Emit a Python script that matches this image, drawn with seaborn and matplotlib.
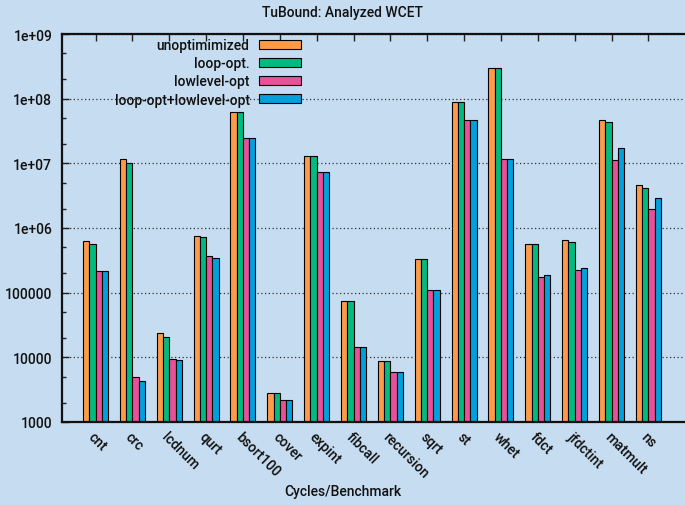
import pandas as pd
import matplotlib
matplotlib.use("Agg")
import matplotlib.pyplot as plt
import matplotlib.ticker as mticker
import seaborn as sns

# data (cycles, log scale)
benchmarks = ["cnt", "crc", "lcdnum", "qurt", "bsort100", "cover", "expint", "fibcall",
              "recursion", "sqrt", "st", "whet", "fdct", "jfdctint", "matmult", "ns"]
series_names = ["unoptimimized", "loop-opt.", "lowlevel-opt", "loop-opt+lowlevel-opt"]
unoptimized = [624000, 11700000, 24200, 755000, 61800000, 2780, 13000000, 74300,
               8930, 329000, 88300000, 297000000, 569000, 647000, 46400000, 4610000]
loop_opt = [561000, 10000000, 20500, 719000, 61800000, 2780, 13000000, 74300,
            8930, 329000, 88300000, 297000000, 569000, 618000, 43700000, 4200000]
lowlevel_opt = [219000, 5040, 9500, 366000, 24700000, 2170, 7300000, 14400,
                5890, 109000, 46400000, 11500000, 173000, 228000, 11300000, 2000000]
both_opt = [219000, 4300, 9100, 345000, 24700000, 2170, 7300000, 14400,
            5890, 109000, 46400000, 11500000, 185000, 238000, 17100000, 2900000]

ytick_values = [1e3, 1e4, 1e5, 1e6, 1e7, 1e8, 1e9]
ytick_labels = ["1000", "10000", "100000", "1e+06", "1e+07", "1e+08", "1e+09"]

colors = ["#ff9a48", "#00bb80", "#e8509a", "#00a0dc"]
bg = "#c6dcf0"

rows = []
for name, vals in zip(series_names, [unoptimized, loop_opt, lowlevel_opt, both_opt]):
    for b, v in zip(benchmarks, vals):
        rows.append({"bench": b, "cycles": v, "series": name})
df = pd.DataFrame(rows)

sns.set_style("ticks")
plt.rcParams["font.family"] = ["Roboto", "DejaVu Sans"]
plt.rcParams["font.size"] = 10
plt.rcParams["font.weight"] = "medium"
plt.rcParams["text.color"] = "#111111"
plt.rcParams["xtick.color"] = "#111111"
plt.rcParams["ytick.color"] = "#111111"

fig = plt.figure(figsize=(6.85, 5.06), dpi=100, facecolor=bg)
W, H = 685, 506
ax = fig.add_axes([62 / W, (H - 423) / H, 628 / W, 388 / H])
ax.set_facecolor(bg)

sns.barplot(data=df, x="bench", y="cycles", hue="series", palette=colors,
            width=0.68, edgecolor="black", linewidth=0.8,
            ax=ax, errorbar=None, saturation=1)

ax.set_yscale("log")
ax.set_ylim(1e3, 1e9)
ax.set_xlim(-0.91, 16.13)
ax.yaxis.set_major_locator(mticker.FixedLocator(ytick_values))
ax.yaxis.set_major_formatter(mticker.FixedFormatter(ytick_labels))
ax.yaxis.set_minor_locator(mticker.LogLocator(base=10, subs=(2.0, 5.0)))
ax.yaxis.set_minor_formatter(mticker.NullFormatter())
ax.grid(axis="y", which="major", linestyle=(0, (1, 2)), color="#333333", linewidth=0.9)
ax.set_axisbelow(True)

ax.tick_params(axis="y", which="major", direction="in", length=5, width=1, pad=7,
               labelsize=10, color="#222222")
ax.tick_params(axis="y", which="minor", direction="in", length=3, width=1, color="#222222")
ax.tick_params(axis="x", direction="in", length=5, width=1, top=True, pad=5,
               labelsize=10, color="#222222")
for lbl in ax.get_xticklabels():
    lbl.set_rotation(-45)
    lbl.set_ha("left")
    lbl.set_va("top")
    lbl.set_rotation_mode("anchor")

for side in ["left", "top", "bottom", "right"]:
    ax.spines[side].set_linewidth(1.6)
    ax.spines[side].set_color("#111111")

ax.set_xlabel("")
ax.set_ylabel("")

handles, labels = ax.get_legend_handles_labels()
ax.legend(handles, labels, loc="upper right", bbox_to_anchor=(301 / W, 1 - 39 / H),
          bbox_transform=fig.transFigure, frameon=False, markerfirst=False,
          handlelength=3.0, handleheight=0.6, handletextpad=0.7, labelspacing=0.3,
          borderpad=0, borderaxespad=0, fontsize=10)

fig.text(0.5, 1 - 13 / H, "TuBound: Analyzed WCET", ha="center", va="center", fontsize=10)
fig.text(0.5, 1 - 492 / H, "Cycles/Benchmark", ha="center", va="center", fontsize=10)

fig.savefig("out.png", dpi=100, facecolor=bg)
